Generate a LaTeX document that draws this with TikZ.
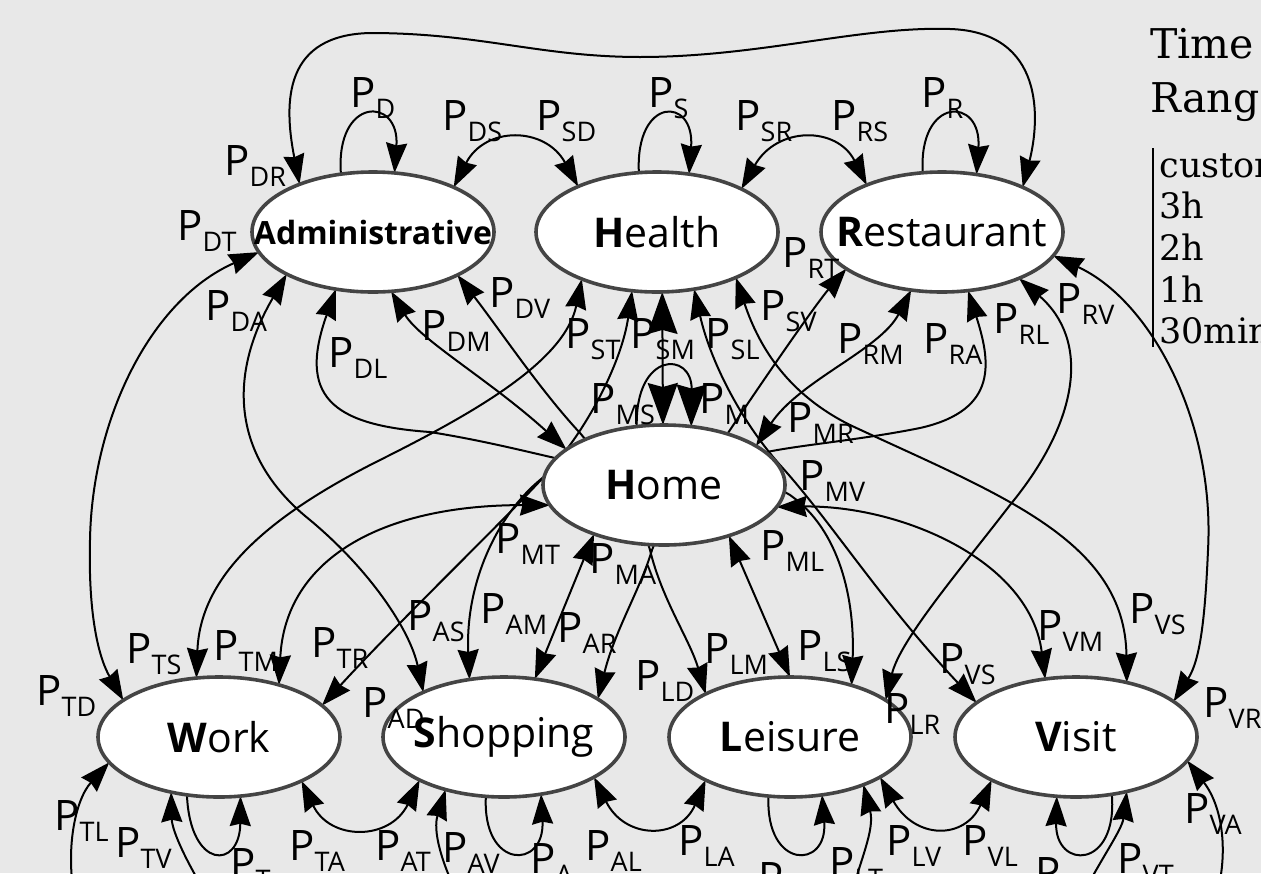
\documentclass[tikz,border=0pt]{standalone}
\usepackage{fontspec}
\setmainfont{Open Sans}
\newfontfamily\legendfont{DejaVu Serif}
\usetikzlibrary{arrows.meta,shapes.geometric}
\pgfdeclarelayer{bgl}
\pgfdeclarelayer{edl}
\pgfsetlayers{bgl,edl,main}
\definecolor{bg}{HTML}{E8E8E8}
\definecolor{rim}{HTML}{444444}
\newcommand{\Pl}[1]{P\raisebox{-5.5pt}{\fontsize{13.5}{13.5}\selectfont #1}}
\begin{document}
\begin{tikzpicture}[x=0.5pt,y=-0.5pt,
  state/.style={ellipse, draw=rim, line width=1.8pt, fill=white, minimum width=121pt, minimum height=60pt, inner sep=0pt, outer sep=0pt, font=\fontsize{20.5}{24}\selectfont},
  edge/.style={line width=1pt, draw=black, >={Stealth[length=15pt,width=10.5pt,inset=1.2pt]}},
  bigtips/.style={>={Stealth[length=21pt,width=15pt,inset=2pt]}},
  lab/.style={inner sep=0pt, anchor=base west, font=\fontsize{21}{24}\selectfont},
  legbig/.style={inner sep=0pt, anchor=base west, font=\legendfont\fontsize{20.5}{24}\selectfont},
  leg/.style={inner sep=0pt, anchor=base west, font=\legendfont\fontsize{17.5}{20}\selectfont}]
\useasboundingbox (0,0) rectangle (1261,873);
\begin{pgfonlayer}{bgl}
\fill[bg] (0,0) rectangle (1261,873);
\end{pgfonlayer}

% states
\node[state] (D) at (373,232) {\makebox[0pt]{\fontsize{16}{19}\selectfont\bfseries Administrative}};
\node[state] (S) at (657,232) {\makebox[0pt]{\textbf{H}ealth}};
\node[state] (R) at (942,232) {\makebox[0pt]{\textbf{R}estaurant}};
\node[state] (M) at (664,485) {\makebox[0pt]{\textbf{H}ome}};
\node[state] (T) at (219,737) {\makebox[0pt]{\textbf{W}ork}};
\node[state] (A) at (504,737) {\makebox[0pt]{\textbf{S}hopping}};
\node[state] (L) at (790,737) {\makebox[0pt]{\textbf{L}eisure}};
\node[state] (V) at (1076,737) {\makebox[0pt]{\textbf{V}isit}};

\begin{pgfonlayer}{edl}
\clip (0,0) rectangle (1261,873);
% top row
\draw[edge,<->] (D.147) .. controls (283,100) and (285,35) .. (370,33) .. controls (480,33) and (540,57) .. (640,57) .. controls (760,57) and (860,26) .. (950,29) .. controls (1045,32) and (1040,120) .. (R.29.5);
\draw[edge,->] (D.119.4) .. controls (335,96) and (400,96) .. (D.70);
\draw[edge,<->] (D.29.4) .. controls (485,126) and (545,126) .. (S.150.6);
\draw[edge,->] (S.107) .. controls (635,96) and (695,96) .. (S.61);
\draw[edge,<->] (S.27.3) .. controls (777,126) and (837,126) .. (R.148.5);
\draw[edge,->] (R.108) .. controls (918,96) and (982,96) .. (R.59);
% Administrative
\draw[edge,<->] (D.190.2) .. controls (150,300) and (92,420) .. (90,540) .. controls (88,620) and (100,660) .. (T.159.5);
\draw[edge,<->] (D.206) .. controls (225,380) and (235,460) .. (310,520) .. controls (370,570) and (410,630) .. (A.151.3);
\draw[edge,<->] (D.237.7) .. controls (298,395) and (330,425) .. (430,432) .. controls (480,440) and (520,450) .. (555,458) .. controls (660,480) and (750,470) .. (790,495) .. controls (840,530) and (855,600) .. (L.40.6);
\draw[edge,<->] (D.287) .. controls (420,340) and (490,380) .. (M.160.1);
\draw[edge,<->] (D.333.4) .. controls (500,330) and (540,390) .. (580,433) .. controls (620,480) and (640,515) .. (650,550) .. controls (662,600) and (690,640) .. (L.153.2);
% Health
\draw[edge,<->] (S.212.8) .. controls (565,360) and (480,410) .. (380,460) .. controls (260,520) and (200,580) .. (T.111);
\draw[edge,<->] (S.247.4) .. controls (622,360) and (590,425) .. (550,470) .. controls (510,515) and (400,620) .. (T.17.3);
\draw[edge,bigtips,<->] (S.275.7) -- (M.91);
\draw[edge,<->] (S.303.7) .. controls (710,360) and (740,420) .. (780,465) .. controls (830,520) and (880,600) .. (V.161.3);
\draw[edge,<->] (S.330.7) .. controls (760,350) and (790,395) .. (850,425) .. controls (1000,495) and (1125,540) .. (V.47.5);
% Restaurant
\draw[edge,<->] (R.201.9) .. controls (815,305) and (760,385) .. (730,430) .. controls (700,475) and (665,515) .. (652,550) .. controls (640,590) and (615,630) .. (A.22.4);
\draw[edge,<->] (R.242.3) .. controls (880,350) and (800,380) .. (M.23.6);
\draw[edge,<->] (R.294) .. controls (990,360) and (1000,410) .. (920,428) .. controls (860,440) and (800,445) .. (767,452) .. controls (700,462) and (600,445) .. (545,476) .. controls (500,510) and (465,580) .. (A.121.7);
\draw[edge,<->] (R.329.3) .. controls (1090,340) and (1080,420) .. (1010,505) .. controls (960,570) and (900,640) .. (L.21.3);
\draw[edge,<->] (R.348.3) .. controls (1150,300) and (1215,420) .. (1208,550) .. controls (1205,620) and (1200,660) .. (V.20.8);
% Home
\draw[edge,bigtips,->] (M.115.8) .. controls (635,351) and (692,351) .. (M.65);
\draw[edge,<->] (T.41.4) .. controls (285,560) and (380,505) .. (M.190.6);
\draw[edge,<->] (M.215.5) -- (A.62.7);
\draw[edge,<->] (M.322.2) -- (L.90);
\draw[edge,<->] (M.349) .. controls (900,505) and (1030,560) .. (V.118.8);
% bottom row
\draw[edge,<->] (T.332) .. controls (330,841) and (390,841) .. (A.207);
\draw[edge,<->] (A.336.4) .. controls (625,840) and (680,840) .. (L.207.6);
\draw[edge,<->] (L.336.1) .. controls (915,840) and (965,840) .. (V.207.3);
\draw[edge,->] (T.241) .. controls (190,870) and (240,870) .. (T.290);
\draw[edge,->] (A.253) .. controls (482,870) and (545,870) .. (A.303);
\draw[edge,->] (L.250.7) .. controls (765,870) and (828,870) .. (L.299.5);
\draw[edge,->] (V.302.3) .. controls (1118,870) and (1055,870) .. (V.252.4);
\draw[edge,<->] (T.193.6) .. controls (75,800) and (65,850) .. (75,900) .. controls (100,1000) and (800,1000) .. (850,900) .. controls (860,860) and (875,830) .. (L.327.4);
\draw[edge,<->] (T.229) .. controls (172,830) and (185,860) .. (210,900) .. controls (400,1150) and (1000,1050) .. (1080,900) .. controls (1100,860) and (1122,830) .. (V.313);
\draw[edge,<->] (A.222.7) .. controls (433,830) and (440,860) .. (460,900) .. controls (550,1100) and (1150,1050) .. (1215,900) .. controls (1228,860) and (1225,810) .. (V.348.2);
\end{pgfonlayer}

% labels
\node[lab] (lD) at (350,107) {\Pl{D}};
\node[lab] (lDR) at (224,175) {\Pl{DR}};
\node[lab] (lDT) at (177,240) {\Pl{DT}};
\node[lab] (lDS) at (442,130) {\Pl{DS}};
\node[lab] (lSD) at (536,130) {\Pl{SD}};
\node[lab] (lDA) at (205,320) {\Pl{DA}};
\node[lab] (lDL) at (328,367) {\Pl{DL}};
\node[lab] (lDM) at (421,340) {\Pl{DM}};
\node[lab] (lDV) at (489,307) {\Pl{DV}};
\node[lab] (lST) at (565,348) {\Pl{ST}};
\node[lab] (lSM) at (630,348) {\Pl{SM}};
\node[lab] (lSL) at (705,348) {\Pl{SL}};
\node[lab] (lSV) at (760,320) {\Pl{SV}};
\node[lab] (lMS) at (590,413) {\Pl{MS}};
\node[lab] (lM) at (699,413) {\Pl{M}};
\node[lab] (lMR) at (787,432) {\Pl{MR}};
\node[lab] (lS) at (648,107) {\Pl{S}};
\node[lab] (lSR) at (735,130) {\Pl{SR}};
\node[lab] (lRS) at (831,130) {\Pl{RS}};
\node[lab] (lR) at (921,107) {\Pl{R}};
\node[lab] (lRT) at (782,267) {\Pl{RT}};
\node[lab] (lRM) at (837,353) {\Pl{RM}};
\node[lab] (lRA) at (923,353) {\Pl{RA}};
\node[lab] (lRL) at (993,333) {\Pl{RL}};
\node[lab] (lRV) at (1056,313) {\Pl{RV}};
\node[lab] (lMT) at (495,553) {\Pl{MT}};
\node[lab] (lMA) at (589,573) {\Pl{MA}};
\node[lab] (lML) at (760,560) {\Pl{ML}};
\node[lab] (lMV) at (799,490) {\Pl{MV}};
\node[lab] (lAS) at (407,630) {\Pl{AS}};
\node[lab] (lAM) at (480,623) {\Pl{AM}};
\node[lab] (lAR) at (557,642) {\Pl{AR}};
\node[lab] (lLD) at (635,690) {\Pl{LD}};
\node[lab] (lLM) at (704,663) {\Pl{LM}};
\node[lab] (lLS) at (797,660) {\Pl{LS}};
\node[lab] (lVSa) at (939,673) {\Pl{VS}};
\node[lab] (lVM) at (1037,640) {\Pl{VM}};
\node[lab] (lVSb) at (1129,623) {\Pl{VS}};
\node[lab] (lVR) at (1203,717) {\Pl{VR}};
\node[lab] (lLR) at (884,723) {\Pl{LR}};
\node[lab] (lTS) at (126,663) {\Pl{TS}};
\node[lab] (lTM) at (213,660) {\Pl{TM}};
\node[lab] (lTR) at (311,657) {\Pl{TR}};
\node[lab] (lTD) at (36,705) {\Pl{TD}};
\node[lab] (lAD) at (362,717) {\Pl{AD}};
\node[lab] (lTL) at (54,830) {\Pl{TL}};
\node[lab] (lTV) at (115,857) {\Pl{TV}};
\node[lab] (lT) at (230,878) {\Pl{T}};
\node[lab] (lTA) at (289,860) {\Pl{TA}};
\node[lab] (lAT) at (375,860) {\Pl{AT}};
\node[lab] (lAV) at (442,862) {\Pl{AV}};
\node[lab] (lA) at (530,873) {\Pl{A}};
\node[lab] (lAL) at (585,860) {\Pl{AL}};
\node[lab] (lLA) at (678,855) {\Pl{LA}};
\node[lab] (lL) at (758,892) {\Pl{L}};
\node[lab] (lLT) at (829,877) {\Pl{LT}};
\node[lab] (lLV) at (886,855) {\Pl{LV}};
\node[lab] (lVL) at (962,855) {\Pl{VL}};
\node[lab] (lV) at (1035,887) {\Pl{V}};
\node[lab] (lVT) at (1117,873) {\Pl{VT}};
\node[lab] (lVA) at (1184,823) {\Pl{VA}};

% legend
\node[legbig] (time) at (1150,58) {Time};
\node[legbig] (range) at (1150,112) {Range};
\draw[line width=0.6pt] (1153,148) -- (1153,347);
\node[leg] (lg1) at (1159,177) {custom};
\node[leg] (lg2) at (1159,218) {3h};
\node[leg] (lg3) at (1159,260) {2h};
\node[leg] (lg4) at (1159,302) {1h};
\node[leg] (lg5) at (1159,343) {30min};
\end{tikzpicture}
\end{document}
